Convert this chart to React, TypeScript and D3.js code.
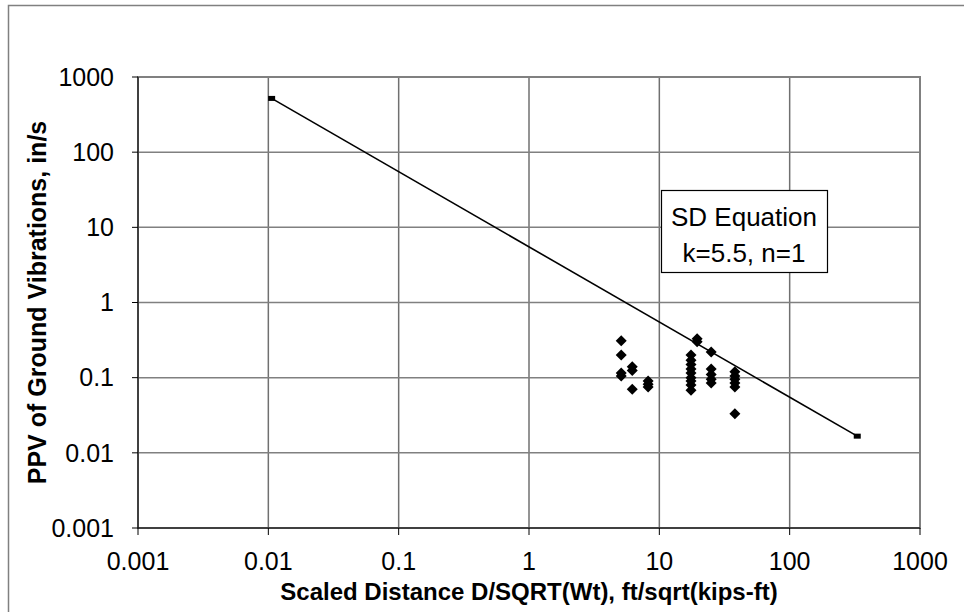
import React from "react";
import * as d3 from "d3";

const xTickValues = [0.001, 0.01, 0.1, 1, 10, 100, 1000];
const yTickValues = [0.001, 0.01, 0.1, 1, 10, 100, 1000];
const xTickLabels = ["0.001", "0.01", "0.1", "1", "10", "100", "1000"];
const yTickLabels = ["0.001", "0.01", "0.1", "1", "10", "100", "1000"];

// Measured points: scaled distance and PPV
const pointSD = [
  5.1, 5.1, 5.1, 5.1,
  6.2, 6.2, 6.2,
  8.2, 8.2, 8.2,
  17.5, 17.5, 17.5, 17.5, 17.5, 17.5, 17.5, 17.5, 17.5,
  19.5, 19.5,
  25, 25, 25, 25, 25,
  38, 38, 38, 38, 38, 38,
];
const pointPPV = [
  0.31, 0.2, 0.115, 0.105,
  0.14, 0.125, 0.07,
  0.09, 0.082, 0.075,
  0.2, 0.17, 0.15, 0.13, 0.115, 0.1, 0.09, 0.08, 0.068,
  0.33, 0.3,
  0.22, 0.13, 0.11, 0.095, 0.085,
  0.12, 0.105, 0.095, 0.085, 0.075, 0.033,
];

// SD equation line endpoints (k=5.5, n=1)
const lineSD = [0.0106, 330];
const lineK = 5.5;
const lineN = 1;

const xTitle = "Scaled Distance D/SQRT(Wt), ft/sqrt(kips-ft)";
const yTitle = "PPV of Ground Vibrations, in/s";
const legendLines = ["SD Equation", "k=5.5, n=1"];

const W = 964;
const H = 612;
const M = { left: 138, right: 44, top: 77, bottom: 84 };
const font = "'Liberation Sans', Arial, sans-serif";

export default function App() {
  const x = d3.scaleLog().domain([0.001, 1000]).range([M.left, W - M.right]);
  const y = d3.scaleLog().domain([0.001, 1000]).range([H - M.bottom, M.top]);
  const x0 = M.left, x1 = W - M.right, y0 = H - M.bottom, y1 = M.top;

  const linePts: [number, number][] = lineSD.map((s) => [s, lineK * Math.pow(s, -lineN)]);
  const lineGen = d3.line<[number, number]>().x((d) => x(d[0])).y((d) => y(d[1]));

  const diamond = (cx: number, cy: number, r: number) =>
    `M${cx},${cy - r}L${cx + r},${cy}L${cx},${cy + r}L${cx - r},${cy}Z`;

  return (
    <svg width={W} height={H} style={{ position: "absolute", left: 0, top: 0, background: "#fff" }}>
      <rect x={8.5} y={5.5} width={1000} height={700} fill="#fff" stroke="#808080" strokeWidth={1.5} />
      {/* gridlines */}
      {xTickValues.map((v, i) => (
        <line key={"gx" + i} x1={x(v)} x2={x(v)} y1={y1} y2={y0} stroke="#707070" strokeWidth={1.5} />
      ))}
      {yTickValues.map((v, i) => (
        <line key={"gy" + i} x1={x0} x2={x1} y1={y(v)} y2={y(v)} stroke="#808080" strokeWidth={1.5} />
      ))}
      {/* plot border */}
      <rect x={x0} y={y1} width={x1 - x0} height={y0 - y1} fill="none" stroke="#808080" strokeWidth={2} />
      {/* axes */}
      <line x1={x0} x2={x0} y1={y1} y2={y0} stroke="#000" strokeWidth={1} />
      <line x1={x0} x2={x1} y1={y0} y2={y0} stroke="#000" strokeWidth={1} />
      {yTickValues.map((v, i) => (
        <g key={"ty" + i}>
          <line x1={x0 - 6} x2={x0} y1={y(v)} y2={y(v)} stroke="#000" />
          <text x={x0 - 24} y={y(v)} dy="0.35em" textAnchor="end" fontFamily={font} fontSize={25} fill="#000">
            {yTickLabels[i]}
          </text>
        </g>
      ))}
      {xTickValues.map((v, i) => (
        <g key={"tx" + i}>
          <line x1={x(v)} x2={x(v)} y1={y0} y2={y0 + 7} stroke="#000" />
          <text x={x(v)} y={y0 + 42} textAnchor="middle" fontFamily={font} fontSize={25} fill="#000">
            {xTickLabels[i]}
          </text>
        </g>
      ))}
      {/* SD equation line */}
      <path d={lineGen(linePts) || ""} fill="none" stroke="#000" strokeWidth={1.6} />
      {linePts.map((p, i) => (
        <rect key={"lm" + i} x={x(p[0]) - 3.5} y={y(p[1]) - 2.5} width={7} height={5} fill="#000" />
      ))}
      {/* data points */}
      {pointSD.map((s, i) => (
        <path key={"p" + i} d={diamond(x(s), y(pointPPV[i]), 5.5)} fill="#000" />
      ))}
      {/* annotation box */}
      <rect x={661.5} y={190.5} width={166} height={82} fill="#fff" stroke="#000" strokeWidth={1.2} />
      <text x={744} y={226} textAnchor="middle" fontFamily={font} fontSize={26} fill="#000">{legendLines[0]}</text>
      <text x={744} y={262} textAnchor="middle" fontFamily={font} fontSize={26} fill="#000">{legendLines[1]}</text>
      {/* titles */}
      <text x={(x0 + x1) / 2} y={y0 + 72} textAnchor="middle" fontFamily={font} fontSize={24} fontWeight="bold" fill="#000">
        {xTitle}
      </text>
      <text transform={`translate(${46},${(y0 + y1) / 2}) rotate(-90)`} textAnchor="middle" fontFamily={font} fontSize={25} fontWeight="bold" fill="#000">
        {yTitle}
      </text>
    </svg>
  );
}
